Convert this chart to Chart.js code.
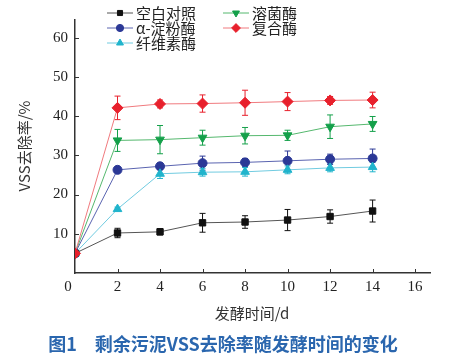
<!DOCTYPE html>
<html>
<head>
<meta charset="utf-8">
<script src="https://cdn.jsdelivr.net/npm/chart.js@4/dist/chart.umd.min.js"></script>
<style>
  body { margin: 0; background: #fff; }
</style>
</head>
<body>
<canvas id="grafico" width="453" height="358"></canvas>
<script>
// dias de fermentacao
const dias = [0, 2, 4, 6, 8, 10, 12, 14];
const xTicks = [0, 2, 4, 6, 8, 10, 12, 14, 16];
const yTicks = [0, 10, 20, 30, 40, 50, 60];

const nomes = ['空白对照', 'α-淀粉酶', '纤维素酶', '溶菌酶', '复合酶'];

const kongbai = [5.0, 10.2, 10.5, 12.8, 13.0, 13.5, 14.4, 15.8];
const kongbaiErr = [0, 1.2, 0.8, 2.4, 1.6, 2.7, 1.7, 2.8];

const dianfen = [5.0, 26.3, 27.2, 28.0, 28.2, 28.6, 29.0, 29.2];
const dianfenErr = [0, 0.8, 0.8, 1.8, 1.0, 2.5, 1.3, 2.4];

const xianwei = [5.0, 16.3, 25.3, 25.7, 25.8, 26.3, 26.8, 27.0];
const xianweiErr = [0, 0.5, 1.2, 1.0, 1.1, 1.0, 1.0, 1.2];

const rongjun = [5.0, 33.8, 34.0, 34.5, 35.0, 35.1, 37.3, 38.0];
const rongjunErr = [0, 2.8, 3.6, 1.9, 2.1, 1.3, 3.0, 1.9];

const fuhe = [5.0, 42.1, 43.1, 43.2, 43.4, 43.7, 44.0, 44.1];
const fuheErr = [0, 3.0, 1.0, 2.2, 3.2, 2.3, 1.0, 2.0];

function pontos(valores) {
    return dias.map((d, i) => ({ x: d, y: valores[i] }));
}

function serie(label, valores, erros, cor, corLinha, estilo, raio, rot) {
    return {
        label: label,
        data: pontos(valores),
        erros: erros,
        borderColor: corLinha,
        backgroundColor: cor,
        pointBorderColor: cor,
        pointBackgroundColor: cor,
        pointStyle: estilo,
        pointRadius: raio,
        pointRotation: rot || 0,
        borderWidth: 1,
        tension: 0,
        clip: { left: 0, top: false, right: false, bottom: false }
    };
}

// chart.js desenha o indice 0 por cima
const datasets = [
    serie(nomes[4], fuhe, fuheErr, '#e8202c', '#f07a7e', 'rectRot', 5.5),
    serie(nomes[0], kongbai, kongbaiErr, '#111111', '#555555', 'rect', 4.5),
    serie(nomes[2], xianwei, xianweiErr, '#20b4cc', '#70cbe0', 'triangle', 5),
    serie(nomes[1], dianfen, dianfenErr, '#2b3896', '#5a64b0', 'circle', 4.5),
    serie(nomes[3], rongjun, rongjunErr, '#14a04a', '#55b86e', 'triangle', 5, 180)
];

const legenda = [
    { nome: nomes[0], ds: 1, x: 107, y: 13 },
    { nome: nomes[1], ds: 3, x: 107, y: 28 },
    { nome: nomes[2], ds: 2, x: 107, y: 43 },
    { nome: nomes[3], ds: 4, x: 223, y: 13 },
    { nome: nomes[4], ds: 0, x: 223, y: 28 }
];

const extras = {
    id: 'extras',
    beforeDatasetsDraw(chart) {
        const ctx = chart.ctx;
        const xs = chart.scales.x, ys = chart.scales.y;
        ctx.save();
        chart.data.datasets.forEach(ds => {
            ctx.strokeStyle = ds.pointBorderColor;
            ctx.lineWidth = 1;
            ds.data.forEach((p, i) => {
                const e = ds.erros[i];
                if (!e) return;
                const px = xs.getPixelForValue(p.x);
                const y1 = ys.getPixelForValue(p.y + e);
                const y2 = ys.getPixelForValue(p.y - e);
                ctx.beginPath();
                ctx.moveTo(px, y1); ctx.lineTo(px, y2);
                ctx.moveTo(px - 3, y1); ctx.lineTo(px + 3, y1);
                ctx.moveTo(px - 3, y2); ctx.lineTo(px + 3, y2);
                ctx.stroke();
            });
        });
        ctx.restore();
    },
    afterDraw(chart) {
        const ctx = chart.ctx;
        const xs = chart.scales.x, ys = chart.scales.y;
        const area = chart.chartArea;
        ctx.save();
        // marcas dos ticks para dentro
        ctx.strokeStyle = '#333';
        ctx.lineWidth = 1;
        ctx.beginPath();
        yTicks.forEach(v => {
            if (v === 0) return;
            const py = Math.round(ys.getPixelForValue(v)) + 0.5;
            ctx.moveTo(area.left, py); ctx.lineTo(area.left + 4, py);
        });
        xTicks.forEach(v => {
            if (v === 0) return;
            const px = Math.round(xs.getPixelForValue(v)) + 0.5;
            ctx.moveTo(px, area.bottom); ctx.lineTo(px, area.bottom - 4);
        });
        ctx.stroke();

        // origem
        ctx.fillStyle = '#222';
        ctx.font = '15px "Liberation Serif"';
        ctx.textAlign = 'center';
        ctx.textBaseline = 'middle';
        ctx.fillText('0', area.left - 7, area.bottom + 14);

        // titulo eixo x
        ctx.font = '15px "Noto Sans CJK SC"';
        ctx.fillStyle = '#333';
        ctx.fillText('发酵时间/d', 252, 313);

        // titulo eixo y
        ctx.save();
        ctx.translate(24, 146);
        ctx.rotate(-Math.PI / 2);
        ctx.fillText('VSS去除率/%', 0, 0);
        ctx.restore();

        // legenda
        ctx.textAlign = 'left';
        legenda.forEach(item => {
            const ds = chart.data.datasets[item.ds];
            ctx.strokeStyle = ds.borderColor;
            ctx.lineWidth = 1;
            ctx.beginPath();
            ctx.moveTo(item.x, item.y); ctx.lineTo(item.x + 26, item.y);
            ctx.stroke();
            ctx.fillStyle = ds.pointBackgroundColor;
            ctx.strokeStyle = ds.pointBorderColor;
            Chart.helpers.drawPoint(ctx, {
                pointStyle: ds.pointStyle,
                radius: ds.pointRadius * 0.8,
                rotation: ds.pointRotation,
                borderWidth: 1
            }, item.x + 13, item.y);
            ctx.fillStyle = '#222';
            ctx.font = '15px "Noto Sans CJK SC"';
            ctx.fillText(item.nome, item.x + 29, item.y);
        });

        // legenda da figura
        ctx.textAlign = 'center';
        ctx.fillStyle = '#2a66ae';
        ctx.font = 'bold 18px "Noto Sans CJK SC"';
        ctx.fillText('图1\u3000剩余污泥VSS去除率随发酵时间的变化', 223, 344);
        ctx.restore();
    }
};

const grafico = document.getElementById('grafico').getContext('2d');

let chart = new Chart(grafico, {
    type: 'line',
    data: { datasets: datasets },
    options: {
        responsive: false,
        animation: false,
        layout: { padding: { top: 20, right: 23, left: 0, bottom: 0 } },
        plugins: { legend: { display: false }, tooltip: { enabled: false } },
        scales: {
            x: {
                type: 'linear',
                min: 0,
                max: 16.7,
                afterBuildTicks: s => { s.ticks = xTicks.map(v => ({ value: v })); },
                afterFit: s => { s.height = 85; },
                grid: { drawOnChartArea: false, drawTicks: false },
                border: { color: '#333', width: 1.5 },
                ticks: {
                    padding: 5,
                    color: '#222',
                    font: { family: '"Liberation Serif"', size: 15 },
                    maxRotation: 0,
                    callback: v => v === 0 ? '' : v
                }
            },
            y: {
                min: 0,
                max: 64.5,
                afterBuildTicks: s => { s.ticks = yTicks.map(v => ({ value: v })); },
                afterFit: s => { s.width = 75; },
                grid: { drawOnChartArea: false, drawTicks: false },
                border: { color: '#333', width: 1.5 },
                ticks: {
                    padding: 7,
                    color: '#222',
                    font: { family: '"Liberation Serif"', size: 15 },
                    callback: v => v === 0 ? '' : v
                }
            }
        }
    },
    plugins: [extras]
});
</script>
</body>
</html>
